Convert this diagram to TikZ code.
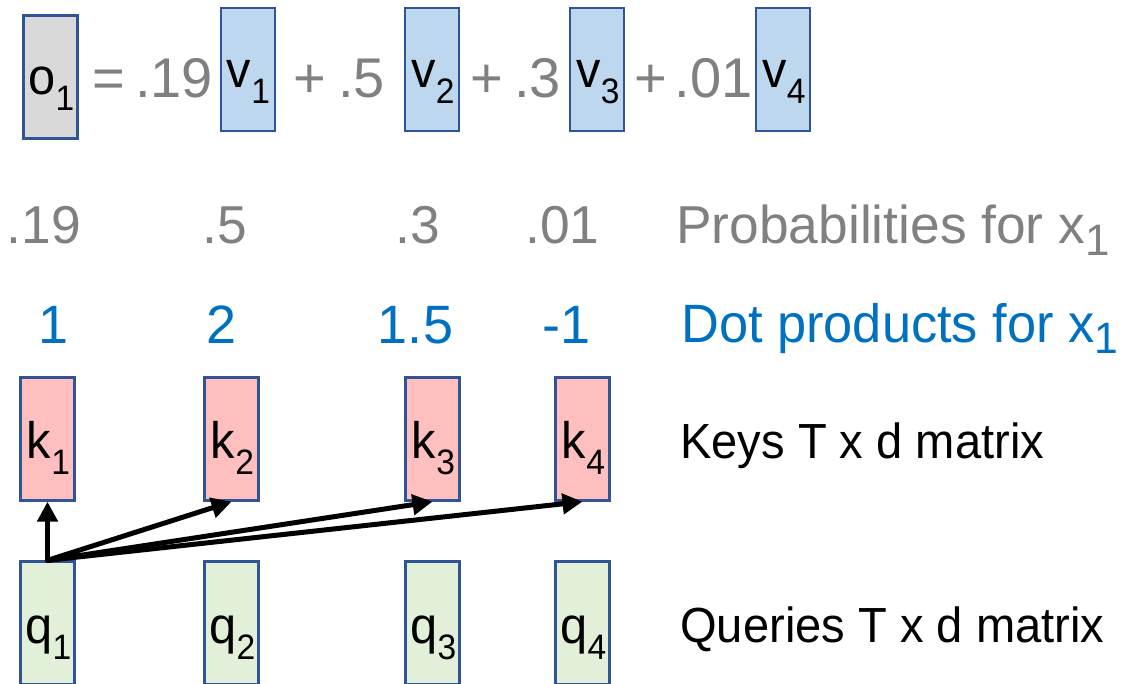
\documentclass[tikz,border=0pt]{standalone}
\usepackage{fontspec}
\setmainfont{Liberation Sans}
\usetikzlibrary{arrows.meta}
\definecolor{boxline}{HTML}{2F5597}
\definecolor{ofill}{HTML}{D9D9D9}
\definecolor{vfill}{HTML}{BDD7EE}
\definecolor{kfill}{HTML}{FFBFBF}
\definecolor{qfill}{HTML}{E2F0D9}
\definecolor{txtgray}{HTML}{808080}
\definecolor{txtblue}{HTML}{0070C0}
\newcommand\sbx[3]{{\fontsize{#1}{#1}\selectfont\raisebox{-#2pt}{#3}}}
\newcommand\blab[2]{\scalebox{0.95}[1]{#1\sbx{26.5}{12}{#2}}}
\newcommand\nar[1]{\scalebox{0.955}[1]{#1}}
\tikzset{
  boxbase/.style={draw=boxline, line width=1.75pt, minimum width=40.5pt, minimum height=92.25pt, inner sep=0pt},
  obox/.style={boxbase, fill=ofill},
  vbox/.style={boxbase, fill=vfill},
  kbox/.style={boxbase, fill=kfill},
  qbox/.style={boxbase, fill=qfill},
  boxtxt/.style={anchor=base, inner sep=0pt, font=\fontsize{38.5}{38.5}\selectfont},
  eqtxt/.style={anchor=base, inner sep=0pt, text=txtgray, font=\fontsize{42}{42}\selectfont},
  probtxt/.style={anchor=base, inner sep=0pt, text=txtgray, font=\fontsize{40}{40}\selectfont},
  dottxt/.style={anchor=base, inner sep=0pt, text=txtblue, font=\fontsize{40.5}{40.5}\selectfont},
  lbltxt/.style={anchor=base west, inner sep=0pt, font=\fontsize{37}{37}\selectfont},
  arr/.style={line width=3.75pt, line cap=round, -{Triangle[length=15pt,width=15pt]}}
}
\begin{document}
\begin{tikzpicture}[x=0.75pt,y=-0.75pt]
\clip (0,0) rectangle (1128,683);
% top equation
\node[obox] (o1) at (50.5,77) {};
\node[vbox] (v1) at (248,69.5) {};
\node[vbox] (v2) at (432,69.5) {};
\node[vbox] (v3) at (597,69.5) {};
\node[vbox] (v4) at (783,69.5) {};
\node[boxtxt] (to1) at (51.5,94) {\blab{o}{1}};
\node[boxtxt] (tv1) at (248.5,87) {\blab{v}{1}};
\node[boxtxt] (tv2) at (433,87) {\blab{v}{2}};
\node[boxtxt] (tv3) at (598,87) {\blab{v}{3}};
\node[boxtxt] (tv4) at (784,87) {\blab{v}{4}};
\node[eqtxt] (eq) at (109,97) {=};
\node[eqtxt] (w1) at (174,97) {.19};
\node[eqtxt] (p1) at (310,97) {+};
\node[eqtxt] (w2) at (361.5,97) {.5};
\node[eqtxt] (p2) at (486.5,97) {+};
\node[eqtxt] (w3) at (537.5,97) {.3};
\node[eqtxt] (p3) at (651,97) {+};
\node[eqtxt] (w4) at (713.5,97) {.01};
% probabilities
\node[probtxt] (pr1) at (44,243) {.19};
\node[probtxt] (pr2) at (224.5,243) {.5};
\node[probtxt] (pr3) at (417.5,243) {.3};
\node[probtxt] (pr4) at (562.5,243) {.01};
\node[probtxt, anchor=base west] (prl) at (676,243) {Probabilities for x\sbx{33}{9}{1}};
% dot products
\node[dottxt] (d1) at (54,343) {1};
\node[dottxt] (d2) at (222,343) {2};
\node[dottxt] (d3) at (415.5,343) {1.5};
\node[dottxt] (d4) at (566.5,343) {-1};
\node[dottxt, anchor=base west] (dl) at (681,342) {\scalebox{0.97}[1]{Dot products for x\sbx{33}{8.5}{1}}};
% keys
\node[kbox] (k1) at (47.5,439) {};
\node[kbox] (k2) at (231.5,439) {};
\node[kbox] (k3) at (432.5,439) {};
\node[kbox] (k4) at (582.5,439) {};
\node[boxtxt] (tk1) at (48.5,458) {\blab{k}{1}};
\node[boxtxt] (tk2) at (232.5,458) {\blab{k}{2}};
\node[boxtxt] (tk3) at (433.5,458) {\blab{k}{3}};
\node[boxtxt] (tk4) at (583.5,458) {\blab{k}{4}};
\node[lbltxt] (kl) at (680,458) {\nar{Keys T x d matrix}};
% queries
\node[qbox] (q1) at (47.5,623) {};
\node[qbox] (q2) at (231.5,623) {};
\node[qbox] (q3) at (432.5,623) {};
\node[qbox] (q4) at (582.5,623) {};
\node[boxtxt] (tq1) at (48.5,643) {\blab{q}{1}};
\node[boxtxt] (tq2) at (232.5,643) {\blab{q}{2}};
\node[boxtxt] (tq3) at (433.5,643) {\blab{q}{3}};
\node[boxtxt] (tq4) at (583.5,643) {\blab{q}{4}};
\node[lbltxt] (ql) at (680,642) {\nar{Queries T x d matrix}};
% arrows
\draw[arr] (q1.north) -- (k1.south);
\draw[arr] (q1.north) -- (k2.south);
\draw[arr] (q1.north) -- (k3.south);
\draw[arr] (q1.north) -- (k4.south);
\end{tikzpicture}
\end{document}
